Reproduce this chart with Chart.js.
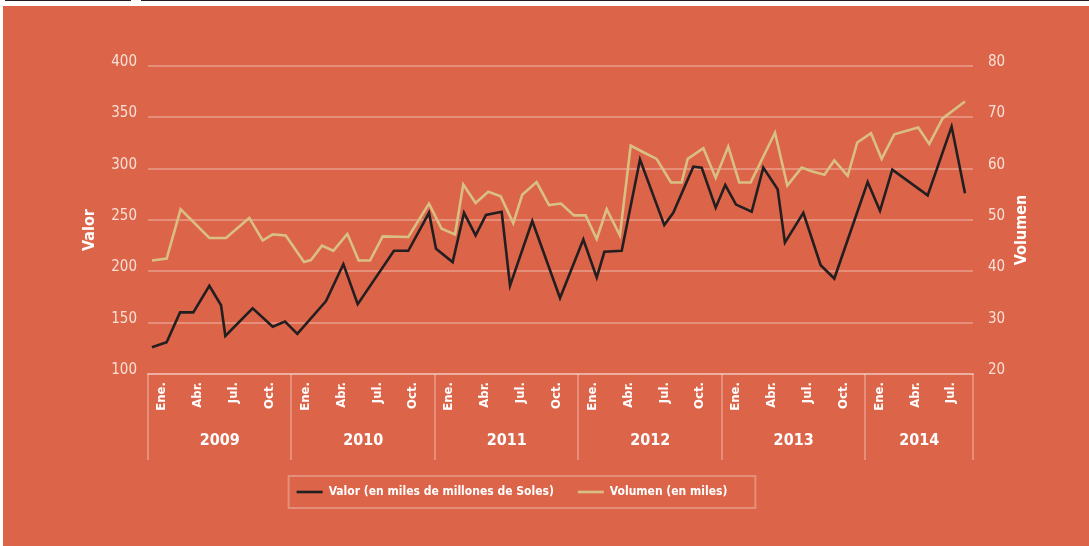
<!DOCTYPE html>
<html><head><meta charset="utf-8">
<script src="https://cdn.jsdelivr.net/npm/chart.js@4.4.0/dist/chart.umd.min.js"></script>
<style>
html,body{margin:0;padding:0;background:#fff;width:1089px;height:546px;overflow:hidden;}
#tl1{position:absolute;left:5px;top:0;width:126px;height:1px;background:#231f20;}
#tl2{position:absolute;left:141px;top:0;width:948px;height:1px;background:#231f20;}
#wrap{position:absolute;left:3px;top:6px;width:1086px;height:540px;background:#DC6449;}
canvas{display:block;}
</style></head>
<body>
<div id="tl1"></div><div id="tl2"></div>
<div id="wrap"><canvas id="c" width="1086" height="540"></canvas></div>
<script>
// ---- data ----
const years = ['2009','2010','2011','2012','2013','2014'];
const monthsPerYear = [12,12,12,12,12,9];
const quarterLabels = ['Ene.','Abr.','Jul.','Oct.'];
const seriesNames = ['Valor (en miles de millones de Soles)','Volumen (en miles)'];
const axisTitles = ['Valor','Volumen'];
const valorTicks = [100,150,200,250,300,350,400];
const volumenTicks = [20,30,40,50,60,70,80];

// position in months since Jan 2009, value in miles de millones de Soles
const valorMes = [0.33,1.56,2.68,3.79,5.13,6.11,6.47,8.75,10.43,11.46,12.49,14.89,16.34,17.54,20.57,21.77,23.5,24.09,25.48,26.43,27.4,28.27,29.58,30.28,32.14,34.46,36.41,37.53,38.17,39.62,41.15,43.18,43.93,45.61,46.31,47.48,48.28,49.18,50.49,51.46,52.66,53.27,54.81,56.26,57.4,60.19,61.22,62.25,65.21,67.21,68.33];
const valor    = [126,131,160,160,186,167,137,164,146,151,139,171,207,168,220,220,257,222,209,257,235,255,258,186,249,174,231,194,219,220,309,245,257,302,301,262,284,265,258,301,280,228,257,206,193,287,259,299,274,341,276];

// position in months since Jan 2009, value in miles
const volumenMes = [0.33,1.56,2.73,5.13,6.52,8.47,9.59,10.43,11.52,13.05,13.63,14.55,15.5,16.67,17.62,18.57,19.63,21.77,23.5,24.56,25.68,26.37,27.4,28.46,29.5,30.55,31.3,32.5,33.54,34.54,35.63,36.6,37.53,38.36,39.47,40.37,41.43,42.54,43.74,44.63,45.14,46.45,47.48,48.53,49.45,50.4,52.44,53.47,54.67,55.51,56.57,57.4,58.52,59.32,60.47,61.36,62.42,64.42,65.34,66.46,68.33];
const volumen    = [42.1,42.5,52.1,46.5,46.5,50.4,46,47.2,47,41.8,42.2,45,44,47.3,42.1,42.1,46.8,46.7,53.2,48.3,47.2,56.9,53.3,55.5,54.6,49.4,54.9,57.4,52.9,53.2,50.9,50.9,46.3,52.1,47,64.5,63.2,61.9,57.3,57.3,61.9,64,58.2,64.3,57.3,57.3,67,56.7,60.2,59.5,58.8,61.6,58.6,65.1,66.9,61.9,66.7,68,64.8,69.8,73.1];

// ---- styling ----
const FONT = "'Liberation Sans Narrow','DejaVu Sans Condensed','Roboto Condensed','Liberation Sans',sans-serif";
const GRID = 'rgba(255,255,255,0.28)';
const TICKC = '#F8E0D6';
Chart.defaults.font.family = FONT;

const totalMonths = monthsPerYear.reduce((a,b)=>a+b,0);
const bounds = [0]; monthsPerYear.forEach(n=>bounds.push(bounds[bounds.length-1]+n));
const monthTicks = [];
years.forEach((y,yi)=>{
  quarterLabels.forEach((q,qi)=>{
    if (qi*3 < monthsPerYear[yi]) monthTicks.push({value: bounds[yi]+qi*3+0.5, label:q});
  });
});

const decor = {
  id:'decor',
  afterDraw(chart){
    const {ctx, chartArea:a, scales:{x}} = chart;
    ctx.save();
    ctx.strokeStyle = GRID; ctx.lineWidth = 2;
    bounds.forEach(b=>{
      const px = Math.round(x.getPixelForValue(b));
      ctx.beginPath(); ctx.moveTo(px, a.bottom); ctx.lineTo(px, a.bottom+86); ctx.stroke();
    });
    ctx.fillStyle = '#fff';
    ctx.font = `bold 16px ${FONT}`;
    ctx.textAlign = 'center'; ctx.textBaseline = 'middle';
    years.forEach((y,i)=>{
      const c = (x.getPixelForValue(bounds[i]) + x.getPixelForValue(bounds[i+1]))/2;
      ctx.fillText(y, c, a.bottom+67);
    });
    // axis titles
    const cy = (a.top + a.bottom)/2 + 10;
    [[axisTitles[0], 87],[axisTitles[1], a.right + 48.7]].forEach(([t,tx])=>{
      ctx.save(); ctx.translate(tx, cy); ctx.rotate(-Math.PI/2);
      ctx.fillText(t, 0, 0); ctx.restore();
    });
    // legend border
    const hb = chart.legend.legendHitBoxes;
    if (hb && hb.length){
      const l = hb[0].left - 8;
      const last = hb[hb.length-1];
      const r = last.left + last.width + 28;
      const cyl = hb[0].top + hb[0].height/2;
      ctx.strokeStyle = GRID; ctx.lineWidth = 2;
      ctx.strokeRect(l, cyl-16, r-l, 32);
    }
    ctx.restore();
  }
};

new Chart(document.getElementById('c'), {
  type:'line',
  data:{
    datasets:[
      {label:seriesNames[0], data:valorMes.map((m,i)=>({x:m,y:valor[i]})), yAxisID:'y',
       borderColor:'#231F20', backgroundColor:'#231F20', borderWidth:2.6, pointRadius:0, tension:0, borderJoinStyle:'miter'},
      {label:seriesNames[1], data:volumenMes.map((m,i)=>({x:m,y:volumen[i]})), yAxisID:'y1',
       borderColor:'#D9BF82', backgroundColor:'#D9BF82', borderWidth:2.6, pointRadius:0, tension:0, borderJoinStyle:'miter'}
    ]
  },
  options:{
    responsive:false, animation:false,
    layout:{padding:{left:0, right:68, top:60, bottom:38}},
    plugins:{
      tooltip:{enabled:false},
      legend:{position:'bottom', labels:{usePointStyle:true, pointStyle:'line', pointStyleWidth:26, padding:24,
        color:'#fff', font:{family:FONT, size:12, weight:'bold'}}}
    },
    scales:{
      x:{type:'linear', min:0, max:totalMonths, bounds:'data',
        afterBuildTicks:s=>{ s.ticks = monthTicks.map(t=>({value:t.value})); },
        afterFit:s=>{ s.height = 88; },
        ticks:{autoSkip:false, minRotation:90, maxRotation:90, padding:8, labelOffset:8,
          color:'#fff', font:{family:FONT, size:13, weight:'bold'},
          callback:(v,i)=> monthTicks[i] ? monthTicks[i].label : ''},
        grid:{drawOnChartArea:false, drawTicks:false, color:'transparent'},
        border:{display:true, color:GRID, width:2}
      },
      y:{position:'left', min:valorTicks[0], max:valorTicks[valorTicks.length-1],
        afterBuildTicks:s=>{ s.ticks = valorTicks.map(v=>({value:v})); },
        afterFit:s=>{ s.width = 145; },
        ticks:{padding:11, labelOffset:-4, color:TICKC, font:{family:FONT, size:15}},
        grid:{color:GRID, lineWidth:2, drawTicks:false}, border:{display:false}
      },
      y1:{position:'right', min:volumenTicks[0], max:volumenTicks[volumenTicks.length-1],
        afterBuildTicks:s=>{ s.ticks = volumenTicks.map(v=>({value:v})); },
        afterFit:s=>{ s.width = 1086-68-970; },
        ticks:{padding:15, labelOffset:-4, color:TICKC, font:{family:FONT, size:15}},
        grid:{drawOnChartArea:false, drawTicks:false}, border:{display:false}
      }
    }
  },
  plugins:[decor]
});
</script>
</body></html>
